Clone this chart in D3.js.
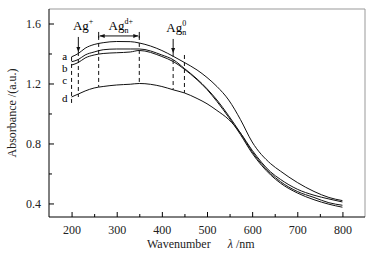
<!DOCTYPE html>
<html>
<head>
<meta charset="utf-8">
<script src="https://cdn.jsdelivr.net/npm/d3@7"></script>
<style>
  body { margin: 0; background: #fff; }
  svg { display: block; font-family: "Liberation Serif", "DejaVu Serif", serif; }
</style>
</head>
<body>
<div id="chart"></div>
<script>
// données
const wavelengths = [200, 215, 230, 250, 270, 300, 330, 350, 400, 426, 450, 478, 500, 522, 548, 574, 600, 641, 663, 700, 737, 770, 800];
const seriesNames = ["a", "b", "c", "d"];
const absA = [1.378, 1.40, 1.435, 1.46, 1.472, 1.48, 1.479, 1.47, 1.42, 1.38, 1.34, 1.29, 1.24, 1.18, 1.09, 0.96, 0.81, 0.665, 0.615, 0.54, 0.48, 0.44, 0.419];
const absB = [1.345, 1.36, 1.39, 1.41, 1.425, 1.43, 1.43, 1.43, 1.39, 1.357, 1.30, 1.23, 1.165, 1.09, 0.985, 0.87, 0.745, 0.60, 0.545, 0.48, 0.44, 0.405, 0.388];
const absC = [1.323, 1.34, 1.37, 1.39, 1.40, 1.405, 1.41, 1.42, 1.38, 1.345, 1.295, 1.225, 1.16, 1.08, 0.975, 0.86, 0.735, 0.59, 0.535, 0.47, 0.425, 0.395, 0.375];
const absD = [1.11, 1.13, 1.15, 1.17, 1.18, 1.19, 1.195, 1.20, 1.18, 1.157, 1.137, 1.10, 1.065, 1.02, 0.96, 0.87, 0.755, 0.61, 0.56, 0.495, 0.455, 0.43, 0.41];
const labelAbs = [1.377, 1.303, 1.217, 1.097];

const xTicks = [200, 300, 400, 500, 600, 700, 800];
const xMinorTicks = [250, 350, 450, 550, 650, 750];
const yTicks = [0.4, 0.8, 1.2, 1.6];
const yMinorTicks = [0.6, 1.0, 1.4];

// repères (lignes pointillées) : longueur d'onde, haut, bas
const markerNm = [200, 215, 260, 350, 425, 450];
const markerTop = [1.377, 1.41, 1.517, 1.517, 1.403, 1.39];
const markerBottom = [1.057, 1.11, 1.177, 1.203, 1.157, 1.137];

const W = 372, H = 256;
const margin = { left: 49, top: 9, right: 7, bottom: 39 };
const width = W - margin.left - margin.right;
const height = H - margin.top - margin.bottom;

const svg = d3.select("#chart").append("svg").attr("width", W).attr("height", H);
const g = svg.append("g").attr("transform", `translate(${margin.left},${margin.top})`);

const x = d3.scaleLinear().domain([150, 850]).range([0, width]);
const y = d3.scaleLinear().domain([0.3097, 1.6967]).range([height, 0]);

// cadre
g.append("line").attr("x1", 0).attr("x2", width).attr("y1", 0).attr("y2", 0).attr("stroke", "#999");
g.append("line").attr("x1", width).attr("x2", width).attr("y1", 0).attr("y2", height).attr("stroke", "#999");

// axes (graduations vers l'intérieur)
g.append("g").attr("transform", `translate(0,${height})`)
  .call(d3.axisBottom(x).tickValues(xTicks).tickSize(-5).tickPadding(8).tickSizeOuter(0));
g.append("g").attr("transform", `translate(0,${height})`)
  .call(d3.axisBottom(x).tickValues(xMinorTicks).tickSize(-3).tickFormat("").tickSizeOuter(0))
  .call(a => a.select(".domain").remove());
g.append("g")
  .call(d3.axisLeft(y).tickValues(yTicks).tickSize(-5).tickPadding(8).tickFormat(d3.format(".1f")).tickSizeOuter(0));
g.append("g")
  .call(d3.axisLeft(y).tickValues(yMinorTicks).tickSize(-3).tickFormat("").tickSizeOuter(0))
  .call(a => a.select(".domain").remove());
g.selectAll(".domain").attr("d", null);
g.append("line").attr("x1", 0).attr("x2", 0).attr("y1", 0).attr("y2", height).attr("stroke", "#000");
g.append("line").attr("x1", 0).attr("x2", width).attr("y1", height).attr("y2", height).attr("stroke", "#000");
g.selectAll(".tick text").attr("font-family", "Liberation Serif").attr("font-size", 12).attr("fill", "#222");

// courbes
const allSeries = [absA, absB, absC, absD];
const line = d3.line().x((d, i) => x(wavelengths[i])).y(d => y(d)).curve(d3.curveMonotoneX);
g.selectAll("path.curve").data(allSeries).join("path")
  .attr("class", "curve")
  .attr("d", d => line(d))
  .attr("fill", "none").attr("stroke", "#111").attr("stroke-width", 1);

// lettres des courbes
g.selectAll("text.lbl").data(seriesNames).join("text")
  .attr("class", "lbl")
  .attr("x", x(185)).attr("y", (d, i) => y(labelAbs[i]))
  .attr("dy", "0.32em").attr("text-anchor", "middle")
  .attr("font-size", 11).text(d => d);

// lignes pointillées
g.selectAll("line.mark").data(markerNm).join("line")
  .attr("class", "mark")
  .attr("x1", d => x(d)).attr("x2", d => x(d))
  .attr("y1", (d, i) => y(markerTop[i])).attr("y2", (d, i) => y(markerBottom[i]))
  .attr("stroke", "#111").attr("stroke-dasharray", "4,3");

// flèches
const defs = svg.append("defs");
defs.append("marker").attr("id", "ah").attr("viewBox", "0 0 10 10").attr("refX", 10).attr("refY", 5)
  .attr("markerWidth", 5).attr("markerHeight", 5).attr("orient", "auto-start-reverse")
  .append("path").attr("d", "M0,1L10,5L0,9Z").attr("fill", "#111");

g.append("line").attr("x1", x(215)).attr("x2", x(215)).attr("y1", y(1.697) + 28).attr("y2", y(1.41))
  .attr("stroke", "#111").attr("marker-end", "url(#ah)");
g.append("line").attr("x1", x(425)).attr("x2", x(425)).attr("y1", y(1.697) + 30).attr("y2", y(1.403))
  .attr("stroke", "#111").attr("marker-end", "url(#ah)");
const yArr = y(1.517);
g.append("line").attr("x1", x(260) + 1).attr("x2", x(350) - 1).attr("y1", yArr).attr("y2", yArr)
  .attr("stroke", "#111").attr("marker-start", "url(#ah)").attr("marker-end", "url(#ah)");
[260, 350].forEach(v => g.append("line").attr("x1", x(v)).attr("x2", x(v)).attr("y1", yArr - 4).attr("y2", yArr + 2).attr("stroke", "#111"));

// étiquettes Ag
function agLabel(xs, yb, sup, sub) {
  const t = g.append("text").attr("x", xs).attr("y", yb).attr("font-size", 13).text("Ag");
  const w = t.node().getComputedTextLength();
  if (sup) g.append("text").attr("x", xs + w).attr("y", yb - 6).attr("font-size", 8).text(sup);
  if (sub) g.append("text").attr("x", xs + w).attr("y", yb + 3).attr("font-size", 8).text(sub);
}
agLabel(x(203), 21, "+", null);
agLabel(x(282), 21, "d+", "n");
agLabel(x(410), 23, "0", "n");

// titres des axes
svg.append("text")
  .attr("transform", `translate(16,${margin.top + height / 2}) rotate(-90)`)
  .attr("text-anchor", "middle").attr("font-size", 12).attr("fill", "#222")
  .text("Absorbance /(a.u.)");
const xt = svg.append("text").attr("x", 147).attr("y", 248).attr("font-size", 12).attr("fill", "#222");
xt.append("tspan").text("Wavenumber");
xt.append("tspan").attr("dx", 17).attr("font-style", "italic").text("λ");
xt.append("tspan").text(" /nm");
</script>
</body>
</html>
